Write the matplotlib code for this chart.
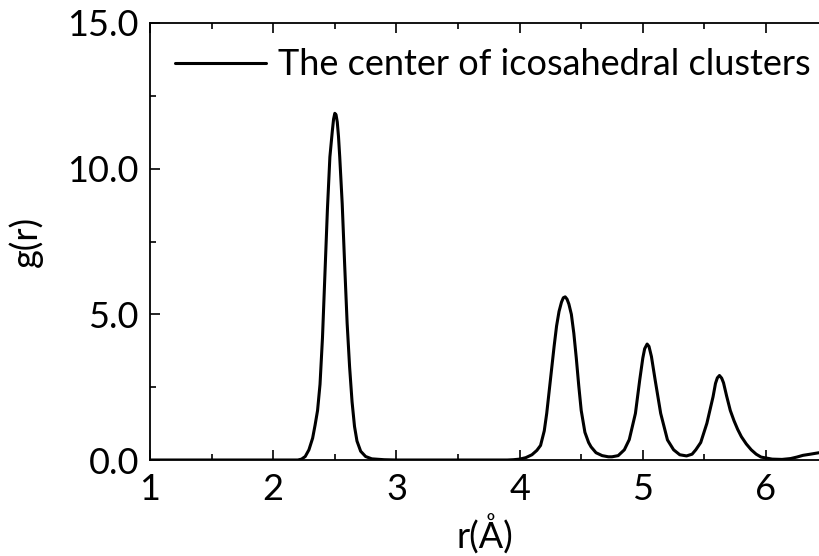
import matplotlib
matplotlib.use("Agg")
import matplotlib.pyplot as plt
from matplotlib.ticker import MultipleLocator, FormatStrFormatter

plt.rcParams['font.family'] = ['Lato', 'DejaVu Sans']

r = [1.00, 1.50, 2.00, 2.20, 2.23, 2.26, 2.29, 2.32, 2.34, 2.36, 2.38, 2.40,
     2.42, 2.44, 2.46, 2.48, 2.49, 2.50, 2.51, 2.52, 2.53, 2.54, 2.56, 2.58,
     2.60, 2.62, 2.64, 2.66, 2.68, 2.71, 2.75, 2.80, 2.90, 3.00, 3.50, 3.90,
     3.95, 4.00, 4.05, 4.10, 4.14, 4.17, 4.20, 4.22, 4.25, 4.28, 4.30, 4.32,
     4.34, 4.355, 4.37, 4.385, 4.40, 4.42, 4.44, 4.46, 4.48, 4.50, 4.53, 4.56,
     4.58, 4.62, 4.67, 4.72, 4.75, 4.80, 4.85, 4.89, 4.94, 4.975, 5.00, 5.015,
     5.035, 5.05, 5.07, 5.10, 5.145, 5.20, 5.25, 5.30, 5.355, 5.40, 5.43, 5.47,
     5.52, 5.57, 5.59, 5.605, 5.622, 5.64, 5.655, 5.68, 5.71, 5.74, 5.77, 5.80,
     5.84, 5.88, 5.92, 5.96, 6.05, 6.13, 6.20, 6.25, 6.30, 6.36, 6.43]
g = [0.00, 0.00, 0.00, 0.00, 0.03, 0.12, 0.35, 0.75, 1.20, 1.70, 2.60, 4.20,
     6.40, 8.60, 10.40, 11.30, 11.70, 11.90, 11.85, 11.60, 11.10, 10.40, 8.80, 6.70,
     4.70, 3.20, 2.00, 1.15, 0.65, 0.30, 0.12, 0.04, 0.01, 0.00, 0.00, 0.00,
     0.01, 0.03, 0.08, 0.18, 0.33, 0.50, 1.00, 1.60, 2.75, 3.90, 4.60, 5.10,
     5.42, 5.57, 5.60, 5.52, 5.35, 5.00, 4.35, 3.50, 2.55, 1.70, 0.95, 0.60,
     0.45, 0.25, 0.15, 0.11, 0.11, 0.15, 0.35, 0.70, 1.60, 2.75, 3.50, 3.82,
     3.98, 3.90, 3.55, 2.75, 1.60, 0.69, 0.35, 0.18, 0.14, 0.20, 0.35, 0.60,
     1.26, 2.17, 2.63, 2.82, 2.90, 2.81, 2.65, 2.20, 1.70, 1.35, 1.05, 0.80,
     0.55, 0.35, 0.20, 0.10, 0.03, 0.02, 0.05, 0.10, 0.16, 0.20, 0.25]

series_label = "The center of icosahedral clusters"
x_label = "r(Å)"
y_label = "g(r)"

fig = plt.figure(figsize=(8.19, 5.56), dpi=100)
ax = fig.add_axes([150/819, 96/556, 1 - 150/819, (460 - 23)/556])
ax.plot(r, g, color='black', lw=2.2, label=series_label,
        solid_joinstyle='round', solid_capstyle='round')

ax.set_xlim(1, 6.43)
ax.set_ylim(0, 15)
ax.xaxis.set_major_locator(MultipleLocator(1))
ax.xaxis.set_minor_locator(MultipleLocator(0.5))
ax.yaxis.set_major_locator(MultipleLocator(5))
ax.yaxis.set_minor_locator(MultipleLocator(2.5))
ax.yaxis.set_major_formatter(FormatStrFormatter('%.1f'))
ax.tick_params(which='both', direction='in', top=True, right=False,
               labelsize=26, width=1.2)
ax.tick_params(which='major', length=7)
ax.tick_params(axis='x', which='major', pad=9)
ax.tick_params(axis='y', which='major', pad=8)
ax.tick_params(which='minor', length=4)
ax.spines['right'].set_visible(False)
for s in ['left', 'bottom', 'top']:
    ax.spines[s].set_linewidth(1.3)

ax.set_xlabel(x_label, fontsize=26, labelpad=6)
ax.set_ylabel(y_label, fontsize=26, labelpad=18)
ax.legend(loc='upper left', frameon=False, fontsize=26, handlelength=2.5,
          handletextpad=0.35, borderaxespad=0.3, bbox_to_anchor=(0.0, 1.0))

fig.savefig('out.png', dpi=100)
